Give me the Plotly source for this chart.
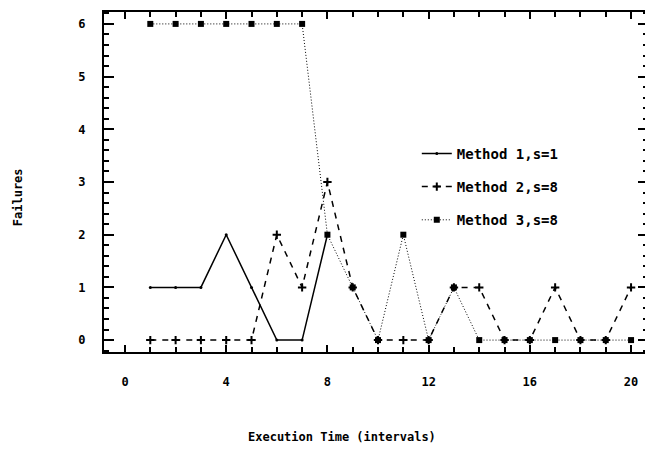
import plotly.graph_objects as go

x_m1 = [1, 2, 3, 4, 5, 6, 7, 8]
y_m1 = [1, 1, 1, 2, 1, 0, 0, 2]
x_all = list(range(1, 21))
y_m2 = [0, 0, 0, 0, 0, 2, 1, 3, 1, 0, 0, 0, 1, 1, 0, 0, 1, 0, 0, 1]
y_m3 = [6, 6, 6, 6, 6, 6, 6, 2, 1, 0, 2, 0, 1, 0, 0, 0, 0, 0, 0, 0]
names = ["Method 1,s=1", "Method 2,s=8", "Method 3,s=8"]
x_ticks = [0, 4, 8, 12, 16, 20]
y_ticks = [0, 1, 2, 3, 4, 5, 6]

FONT = "DejaVu Sans Mono"

fig = go.Figure()
fig.add_trace(go.Scatter(x=x_m1, y=y_m1, mode="lines+markers", name="<b>" + names[0] + "</b>",
                         line=dict(color="black", width=1.5, dash="solid"),
                         marker=dict(symbol="circle", size=3, color="black"),
                         legendgroup="a"))
fig.add_trace(go.Scatter(x=x_all, y=y_m2, mode="lines+markers", name="<b>" + names[1] + "</b>",
                         line=dict(color="black", width=1.5, dash="6px,6px"),
                         marker=dict(symbol="cross-thin-open", size=6, color="black",
                                     line=dict(width=2, color="black")),
                         legendgroup="b"))
fig.add_trace(go.Scatter(x=x_all, y=y_m3, mode="lines+markers", name="<b>" + names[2] + "</b>",
                         line=dict(color="black", width=1, dash="1px,2px"),
                         marker=dict(symbol="square", size=6, color="black"),
                         legendgroup="c"))

fig.update_layout(
    width=660, height=460,
    margin=dict(l=104, r=10, t=10, b=108),
    paper_bgcolor="white", plot_bgcolor="white",
    font=dict(family=FONT, size=12, color="black"),
    legend=dict(x=0.575, y=0.63, xanchor="left", yanchor="top",
                bgcolor="rgba(0,0,0,0)", tracegroupgap=12,
                font=dict(family=FONT, size=14, color="black")),
    annotations=[
        dict(text="<b>Execution Time (intervals)</b>", xref="paper", yref="paper",
             x=(343 - 104) / 546, y=-(438 - 352) / 342, xanchor="center", yanchor="middle",
             showarrow=False, font=dict(family=FONT, size=12)),
        dict(text="<b>Failures</b>", xref="paper", yref="paper", textangle=-90,
             x=-(104 - 18) / 546, y=(352 - 196) / 342, xanchor="center", yanchor="middle",
             showarrow=False, font=dict(family=FONT, size=12)),
    ],
)
fig.update_xaxes(
    range=[-0.83, 20.67], tickmode="array", tickvals=x_ticks,
    ticktext=["<b>%d</b>" % v for v in x_ticks],
    ticks="inside", ticklen=7, tickwidth=1.5, tickcolor="black",
    minor=dict(dtick=1, tick0=0, ticks="inside", ticklen=5, tickwidth=1.5, tickcolor="black"),
    showline=True, linewidth=2, linecolor="black", mirror="allticks",
    showgrid=False, zeroline=False, ticklabelstandoff=18,
    tickfont=dict(family=FONT, size=12),
)
fig.update_yaxes(
    range=[-0.226, 6.226], tickmode="array", tickvals=y_ticks,
    ticktext=["<b>%d</b>" % v for v in y_ticks],
    ticks="inside", ticklen=10, tickwidth=1.5, tickcolor="black",
    minor=dict(dtick=0.2, tick0=0, ticks="inside", ticklen=5, tickwidth=1.5, tickcolor="black"),
    showline=True, linewidth=2, linecolor="black", mirror="allticks",
    showgrid=False, zeroline=False, ticklabelstandoff=14,
    tickfont=dict(family=FONT, size=12),
)

fig.write_html("out.html")
